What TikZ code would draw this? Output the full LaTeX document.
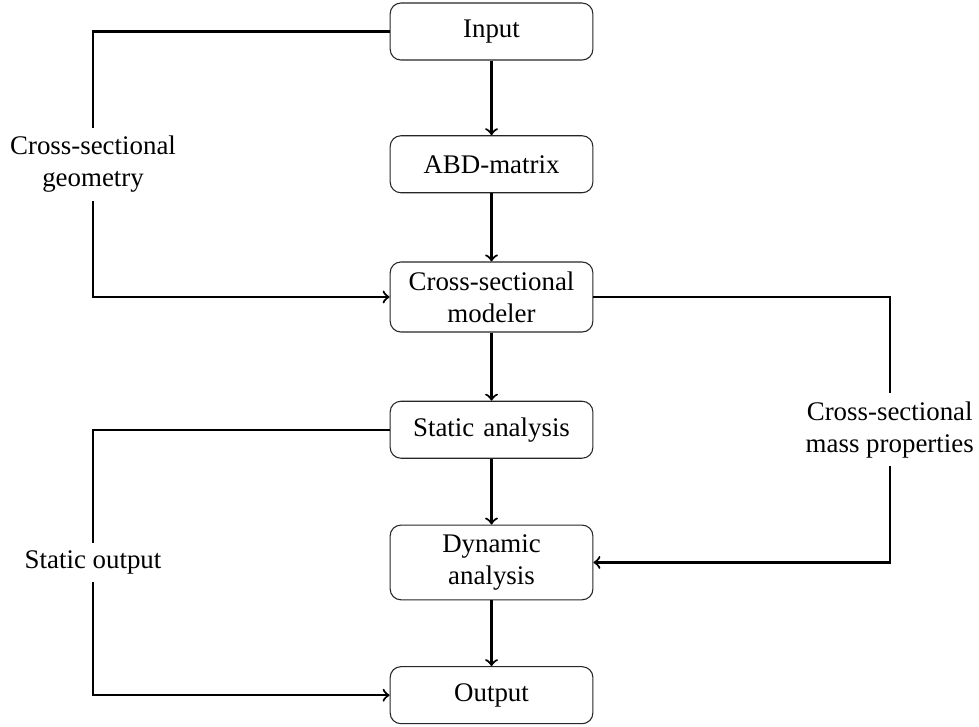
\documentclass[tikz,border=0pt]{standalone}
\usepackage{fontspec}
\setmainfont{Liberation Serif}
\usetikzlibrary{positioning}

\tikzset{
	block/.style={draw=black!85,rounded corners=4pt,minimum width=2.65cm,minimum height=0.745cm,
		text width=2.3cm,align=center,inner xsep=2pt,inner ysep=3.5pt},
	link/.style={thick,->},
	tag/.style={fill=white,align=center,inner sep=3pt}
}

\begin{document}
\begin{tikzpicture}[node distance=1.735cm,on grid]
		\useasboundingbox (0,0) rectangle (12.797,-9.49);
		% main chain
		\node[block] (input) at (6.425,-0.412) {Input};
		\node[block,below=of input] (abd) {ABD-matrix};
		\node[block,below=of abd] (modeler) {Cross-sectional modeler};
		\node[block,below=of modeler] (static) {Static analysis};
		\node[block,below=of static] (dynamic) {Dynamic analysis};
		\node[block,below=of dynamic] (output) {Output};
		\draw[link] (input) -- (abd);
		\draw[link] (abd) -- (modeler);
		\draw[link] (modeler) -- (static);
		\draw[link] (static) -- (dynamic);
		\draw[link] (dynamic) -- (output);
		% side branches
		\coordinate (geotop) at (1.216,0 |- input.west);
		\coordinate (stattop) at (1.216,0 |- static.west);
		\coordinate (masstop) at (11.63,0 |- modeler.east);
		\draw[link] (input.west) -- (geotop)
		-- node[tag] {Cross-sectional\\geometry} (geotop |- modeler.west) -- (modeler.west);
		\draw[link] (static.west) -- (stattop)
		-- node[tag] {Static output} (stattop |- output.west) -- (output.west);
		\draw[link] (modeler.east) -- (masstop)
		-- node[tag] {Cross-sectional\\mass properties} (masstop |- dynamic.east) -- (dynamic.east);
\end{tikzpicture}
\end{document}
